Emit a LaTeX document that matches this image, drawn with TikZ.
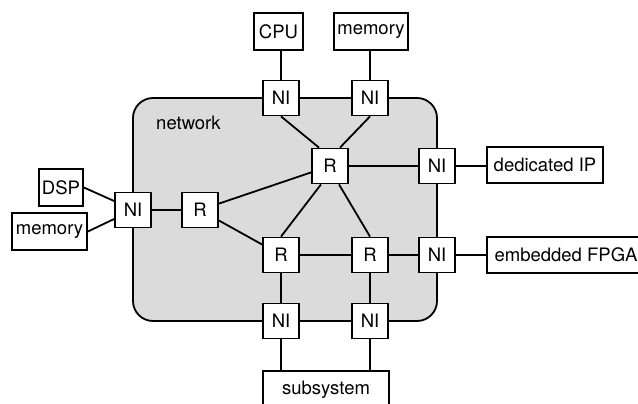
\documentclass[tikz,border=0pt]{standalone}
\usepackage{fontspec}
\setmainfont{TeX Gyre Heros}
\begin{document}
\begin{tikzpicture}[x=1pt,y=-1pt,
  line width=1.8pt,
  every node/.style={font=\fontsize{18.5}{22}\selectfont},
  box/.style={draw, fill=white, inner sep=0pt, minimum height=37pt},
  small/.style={box, minimum width=36pt, minimum height=35pt}]
  \useasboundingbox (0,0) rectangle (638,404);

  % the network region
  \filldraw[fill=black!14, rounded corners=20pt] (133,98) rectangle (437,321);
  \node[anchor=base west] (netlabel) at (152,130) {network};

  % network interfaces
  \node[small] (niT1) at (281,98) {NI};
  \node[small] (niT2) at (370,98) {NI};
  \node[small] (niL)  at (133,210) {NI};
  \node[small] (niR1) at (437,166) {NI};
  \node[small] (niR2) at (437,255) {NI};
  \node[small] (niB1) at (281,321) {NI};
  \node[small] (niB2) at (370,321) {NI};

  % routers
  \node[small] (rL)  at (200,210) {R};
  \node[small] (rT)  at (330,166) {R};
  \node[small] (rB1) at (281,255) {R};
  \node[small] (rB2) at (370,255) {R};

  % attached components
  \node[box, minimum width=49pt] (cpu) at (278.5,31.5) {CPU};
  \node[box, minimum width=74pt] (memT) at (371,31.5) {memory};
  \node[box, minimum width=44pt] (dsp) at (61,187.5) {DSP};
  \node[box, minimum width=75pt] (memL) at (49.5,231.5) {memory};
  \node[box, minimum width=116pt, minimum height=36pt] (dip) at (545,165) {dedicated IP};
  \node[box, minimum width=158pt, minimum height=36pt] (fpga) at (566,255) {embedded FPGA};
  \node[box, minimum width=126pt, minimum height=38pt] (sub) at (326,390) {subsystem};

  % links between components and interfaces
  \draw (niT1.north) -- (niT1.north |- cpu.south);
  \draw (niT2.north) -- (niT2.north |- memT.south);
  \draw (dsp.east) -- ([yshift=9pt]niL.west);
  \draw (memL.east) -- ([yshift=-9pt]niL.west);
  \draw (niR1) -- (niR1 -| dip.west);
  \draw (niR2) -- (fpga);
  \draw (niB1.south) -- (niB1.south |- sub.north);
  \draw (niB2.south) -- (niB2.south |- sub.north);

  % links inside the network
  \draw (niL) -- (rL);
  \draw (rL) -- (rT);
  \draw (rL) -- (rB1);
  \draw (niT1.south) -- ([xshift=-11pt]rT.north);
  \draw (niT2.south) -- ([xshift=10pt]rT.north);
  \draw ([xshift=-9pt]rT.south) -- (rB1.north);
  \draw ([xshift=9pt]rT.south) -- (rB2.north);
  \draw (rT) -- (niR1);
  \draw (rB1) -- (rB2);
  \draw (rB2) -- (niR2);
  \draw (rB1) -- (niB1);
  \draw (rB2) -- (niB2);
\end{tikzpicture}
\end{document}
